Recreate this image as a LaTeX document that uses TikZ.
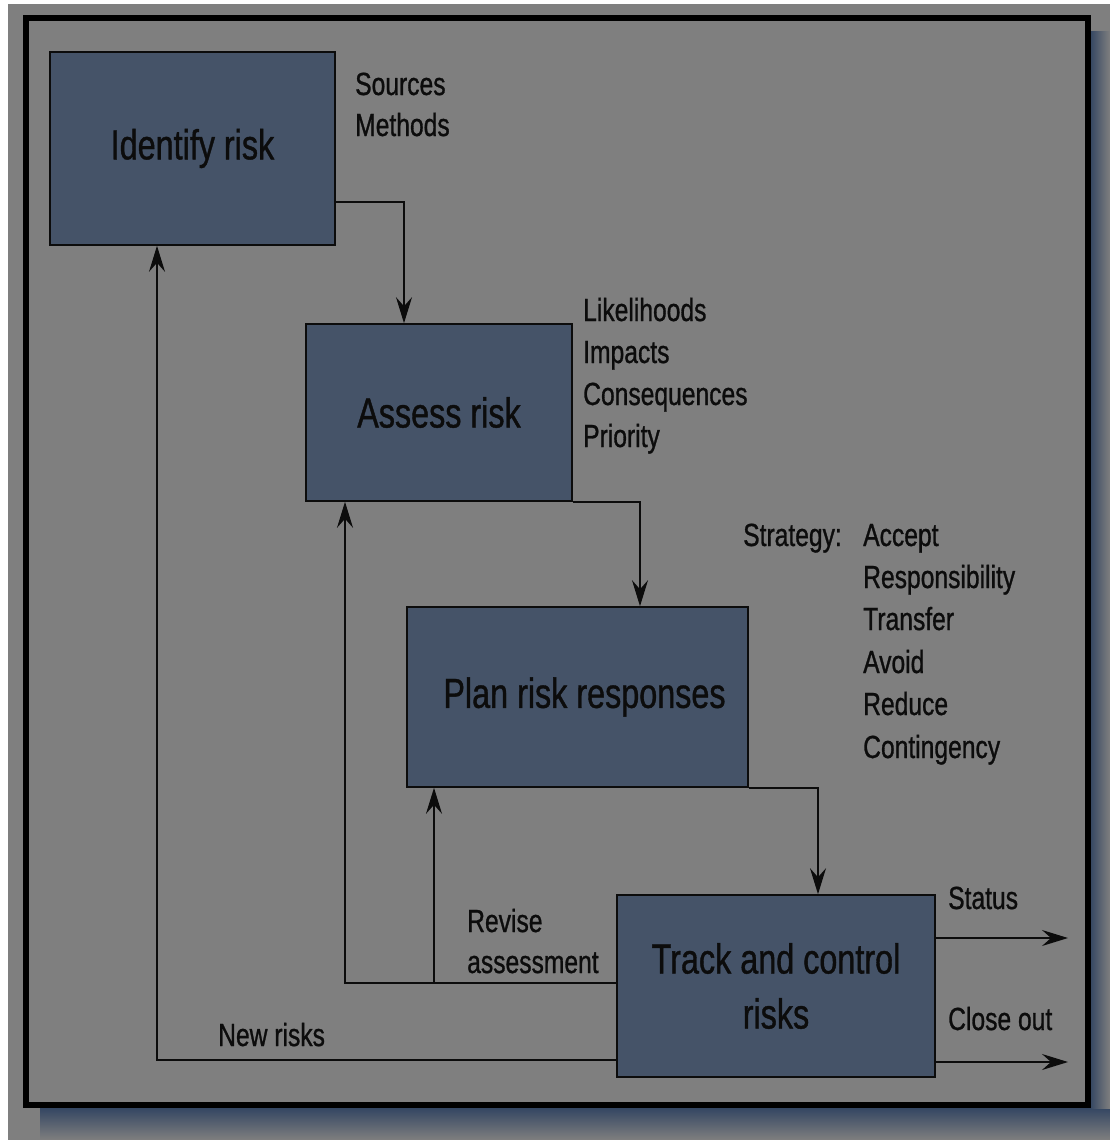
\documentclass[tikz,border=0pt]{standalone}
\usepackage{fontspec}
\setmainfont{Liberation Sans}[FakeStretch=0.77, FakeBold=0.9]
\usetikzlibrary{arrows.meta}
\definecolor{bg}{RGB}{127,127,127}
\definecolor{boxfill}{RGB}{69,83,104}
\definecolor{shadowblue}{RGB}{52,70,98}
\definecolor{ink}{RGB}{12,12,12}
\begin{document}
\begin{tikzpicture}[x=1pt,y=-1pt,
  stage/.style={draw=ink, line width=1.6pt, fill=boxfill, inner sep=0pt,
    font=\fontsize{42}{55}\selectfont, text=ink, align=center},
  note/.style={anchor=base west, inner sep=0pt,
    font=\fontsize{32}{42}\selectfont, text=ink, align=left},
  flow/.style={draw=ink, line width=1.6pt,
    -{Stealth[length=26pt,width=16pt,inset=9pt]}}]
\useasboundingbox (0,0) rectangle (1110,1140);
% page background
\fill[bg] (0,0) rectangle (1110,1140);
\fill[white] (0,0) rectangle (8,1140);
\fill[white] (0,0) rectangle (1110,4);
% drop shadow of the frame
\shade[top color=shadowblue, bottom color=bg] (40,1108) rectangle (1110,1140);
\shade[left color=shadowblue, right color=bg] (1090,32) rectangle (1110,1108);
% frame
\draw[line width=6pt, fill=bg] (25.5,18.5) rectangle (1087.5,1105);

% process stages
\node[stage, minimum width=285pt, minimum height=193pt] (id) at (192.5,148.5) {Identify risk};
\node[stage, minimum width=266pt, minimum height=177pt] (as) at (439,412.5) {Assess risk};
\node[stage, minimum width=341pt, minimum height=180pt] (pl) at (577.5,697) {\hspace*{14pt}Plan risk responses};
\node[stage, minimum width=318pt, minimum height=182pt] (tr) at (776,986) {Track and control\\risks};

% side notes
\node[note] (src) at (355,95) {Sources};
\node[note] (mth) at (355,136) {Methods};
\node[note] (lik) at (583,321) {Likelihoods};
\node[note] (imp) at (583,363) {Impacts};
\node[note] (con) at (583,405) {Consequences};
\node[note] (pri) at (583,447) {Priority};
\node[note] (str) at (743,546) {Strategy:};
\node[note] (acc) at (863,546) {Accept};
\node[note] (rsp) at (863,588) {Responsibility};
\node[note] (trf) at (863,630) {Transfer};
\node[note] (avd) at (863,673) {Avoid};
\node[note] (red) at (863,715) {Reduce};
\node[note] (cnt) at (863,758) {Contingency};
\node[note] (rev) at (467,932) {Revise};
\node[note] (ass) at (467,973) {assessment};
\node[note] (nrk) at (218,1046) {New risks};
\node[note] (sts) at (948,909) {Status};
\node[note] (clo) at (948,1030) {Close out};

% main flow
\draw[flow] ([yshift=-53.5pt]id.east) -| ([xshift=-35pt]as.north);
\draw[flow] (as.south east) -| ([xshift=62.5pt]pl.north);
\draw[flow] (pl.south east) -| ([xshift=42pt]tr.north);

% feedback loops
\draw[flow] ([yshift=3pt]tr.west) -| ([xshift=-94pt]as.south);
\coordinate (fork) at (434,983);
\draw[flow] (fork) -- (fork |- pl.south);
\draw[flow] ([yshift=-74pt]tr.west) -| ([xshift=-35.5pt]id.south);

% outputs
\coordinate (statusend) at (1068,938);
\coordinate (closeend) at (1068,1062);
\draw[flow] (tr.east |- statusend) -- (statusend);
\draw[flow] (tr.east |- closeend) -- (closeend);
\end{tikzpicture}
\end{document}
